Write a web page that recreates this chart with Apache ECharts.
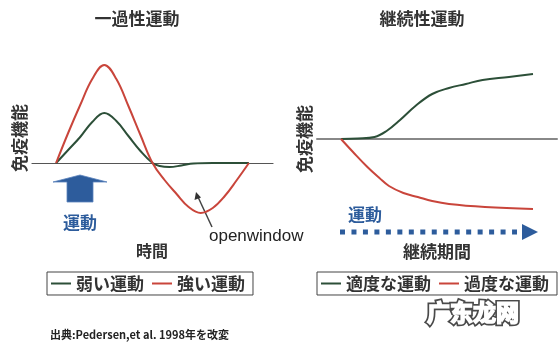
<!DOCTYPE html>
<html>
<head>
<meta charset="utf-8">
<script src="https://cdn.jsdelivr.net/npm/echarts@6/dist/echarts.min.js"></script>
<style>
  html, body { margin: 0; padding: 0; background: #fff; }
  #chart { width: 560px; height: 344px; }
</style>
</head>
<body>
<div id="chart"></div>
<script>
// Acute exercise: immune function over time (relative to baseline = 0)
const acuteTimeStrong = [10, 15, 20, 25, 30, 35, 40, 45, 50, 55, 60, 65, 70, 75, 80, 85, 90];
const acuteStrong     = [0, 30, 58, 84, 98, 84, 57, 28, 0, -17, -31, -44, -50, -45, -33, -17, 0];
const acuteTimeWeak   = [10, 15, 20, 25, 30, 35, 40, 45, 50, 53, 57, 62, 67, 75, 90];
const acuteWeak       = [0, 13, 26, 41, 50, 42, 27, 12, 0, -3, -4, -2.5, -0.5, 0, 0];

// Chronic exercise: immune function over training period
const chronicTimeModerate = [10, 17, 24, 29, 34.6, 41, 48, 55, 62, 69, 80, 90];
const chronicModerate     = [0, 0.5, 2, 8, 19, 33, 45, 51, 55, 59, 62, 65];
const chronicTimeExcess   = [10, 15, 21, 26, 30, 36, 42, 48, 55, 70, 90];
const chronicExcess       = [0, -13, -28, -39, -47, -54, -58, -62, -65, -68, -70];

const seriesNames = ['弱い運動', '強い運動', '適度な運動', '過度な運動'];
const panelTitles = ['一過性運動', '継続性運動'];
const yName = '免疫機能';

const GREEN = '#2c4f38';
const RED = '#c9453b';
const BLUE = '#2d5c9c';
const JP = '"Noto Sans CJK JP", "Noto Sans CJK SC", sans-serif';

const pairs = (xs, ys) => xs.map((x, i) => [x, ys[i]]);

const chart = echarts.init(document.getElementById('chart'), null, { renderer: 'canvas' });

const hiddenX = (gridIndex, lineColor, lineWidth) => ({
  type: 'value', gridIndex, min: 0, max: 100,
  axisLine: { show: true, onZero: true, lineStyle: { color: lineColor, width: lineWidth } },
  axisTick: { show: false }, axisLabel: { show: false }, splitLine: { show: false }
});
const namedY = (gridIndex, min, max, gap) => ({
  type: 'value', gridIndex, min, max,
  name: yName, nameLocation: 'middle', nameRotate: 90, nameGap: gap,
  nameTextStyle: { fontFamily: JP, fontSize: 17, fontWeight: 'bold', color: '#333' },
  axisLine: { show: false }, axisTick: { show: false }, axisLabel: { show: false }, splitLine: { show: false }
});
const lineSeries = (name, data, color, idx) => ({
  name, type: 'line', data, xAxisIndex: idx, yAxisIndex: idx,
  smooth: 0.4, showSymbol: false, symbol: 'none',
  lineStyle: { color, width: 2 }, itemStyle: { color }
});
const legendBox = (left, names) => ({
  data: names, left, top: 272, orient: 'horizontal',
  icon: 'rect', itemWidth: 20, itemHeight: 2, itemGap: 8,
  padding: [3, 8, 3, 4], borderColor: '#444', borderWidth: 1, backgroundColor: '#fff',
  selectedMode: false,
  textStyle: { fontFamily: JP, fontSize: 17, fontWeight: 'bold', color: '#333' }
});
const label = (text, x, y, size, color, extra) => Object.assign({
  type: 'text', x, y,
  style: { text, fontFamily: JP, fontSize: size, fontWeight: 'bold', fill: color, align: 'center', verticalAlign: 'middle' }
}, extra || {});

const markStyle = {
  text: '广东龙网', fontFamily: '"Noto Sans CJK SC", sans-serif', fontSize: 23, fontWeight: 'bold',
  align: 'center', verticalAlign: 'middle'
};

chart.setOption({
  backgroundColor: '#fff',
  animation: false,
  grid: [
    { left: 32, top: 53, width: 241, height: 170 },
    { left: 317, top: 59, width: 240, height: 160 }
  ],
  xAxis: [hiddenX(0, '#555', 1.2), hiddenX(1, '#888', 2)],
  yAxis: [namedY(0, -60, 110, 4), namedY(1, -80, 80, 4)],
  legend: [
    legendBox(47, [seriesNames[0], seriesNames[1]]),
    legendBox(317, [seriesNames[2], seriesNames[3]])
  ],
  series: [
    lineSeries(seriesNames[0], pairs(acuteTimeWeak, acuteWeak), GREEN, 0),
    lineSeries(seriesNames[1], pairs(acuteTimeStrong, acuteStrong), RED, 0),
    lineSeries(seriesNames[2], pairs(chronicTimeModerate, chronicModerate), GREEN, 1),
    lineSeries(seriesNames[3], pairs(chronicTimeExcess, chronicExcess), RED, 1)
  ],
  graphic: [
    label(panelTitles[0], 137, 19, 17, '#333'),
    label(panelTitles[1], 422, 19, 17, '#333'),
    // exercise bout marker
    {
      type: 'polygon',
      shape: { points: [[80, 175], [107, 182], [93, 182], [93, 202], [67, 202], [67, 182], [53, 182]] },
      style: { fill: BLUE, stroke: '#5b83bd', lineWidth: 0.8 }
    },
    label('運動', 80, 223, 17, BLUE),
    label('時間', 152, 251, 16, '#333'),
    // open window pointer
    {
      type: 'line',
      shape: { x1: 212, y1: 227, x2: 198, y2: 197 },
      style: { stroke: '#444', lineWidth: 1.5 }
    },
    {
      type: 'polygon',
      shape: { points: [[196, 192], [194.5, 200], [201, 197.5]] },
      style: { fill: '#333' }
    },
    {
      type: 'text', x: 209, y: 236,
      style: { text: 'openwindow', fontFamily: '"Liberation Sans", Arial, sans-serif', fontSize: 17, fill: '#222', align: 'left', verticalAlign: 'middle' }
    },
    // continued training period arrow
    label('運動', 365, 215, 17, BLUE),
    {
      type: 'line',
      shape: { x1: 340, y1: 232, x2: 517, y2: 232 },
      style: { stroke: BLUE, lineWidth: 5, lineDash: [5, 6.47] }
    },
    {
      type: 'polygon',
      shape: { points: [[522, 224], [538, 232], [522, 240]] },
      style: { fill: BLUE }
    },
    label('継続期間', 437, 252, 17, '#333'),
    {
      type: 'text', x: 50, y: 335,
      style: { text: '出典:Pedersen,et al. 1998年を改変', fontFamily: JP, fontSize: 11, fontWeight: 'bold', fill: '#222', align: 'left', verticalAlign: 'middle' }
    },
    // outlined site mark: thick dark outline layer, then slightly widened white glyphs on top
    {
      type: 'group', x: 473, y: 312,
      children: [
        { type: 'text', z: 50, style: Object.assign({ fill: '#4a4a4a', stroke: '#4a4a4a', lineWidth: 5, lineJoin: 'round' }, markStyle) },
        { type: 'text', z: 51, style: Object.assign({ fill: '#ffffff', stroke: '#ffffff', lineWidth: 1.6, lineJoin: 'round' }, markStyle) }
      ]
    }
  ]
});
</script>
</body>
</html>
